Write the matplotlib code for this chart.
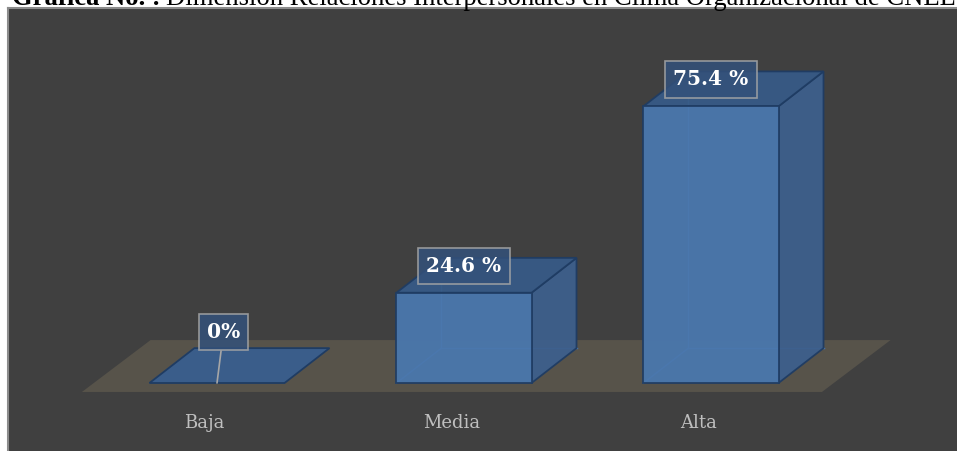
import matplotlib
matplotlib.use('Agg')
import matplotlib.pyplot as plt
from matplotlib.patches import Polygon

# datos de la gráfica
categories = ['Baja', 'Media', 'Alta']
values = [0.0, 24.6, 75.4]
value_labels = ['0%', '24.6 %', '75.4 %']

W, H = 957, 451
BG = '#404040'
FRONT = '#4a77ad'
SIDE = '#3d5f8c'
TOP = '#375a86'
EDGE = '#1f3c63'
FLOOR = '#57534a'

fig = plt.figure(figsize=(W / 100, H / 100), dpi=100)
fig.patch.set_facecolor('white')

# area del grafico (marco oscuro)
left_px, top_px = 8, 8
ax = fig.add_axes([left_px / W, 0, (W - left_px) / W, (H - top_px) / H])
ax.set_facecolor(BG)

# escala: pixeles por categoria y por porcentaje
x0_px, px_cat = 217, 247
y0_px, px_pct = 383, 3.67
ax.set_xlim((left_px - x0_px) / px_cat, (W - x0_px) / px_cat)
ax.set_ylim((y0_px - H) / px_pct, (y0_px - top_px) / px_pct)

bar_w = 0.547   # ancho de la barra
dx, dy = 0.182, 9.5   # profundidad (oblicua)

# piso
fl_front, fl_back = -2.45, 11.7
fl_left, fl_right, fl_shift = -0.547, 2.449, 0.278
ax.add_patch(Polygon([(fl_left, fl_front), (fl_right, fl_front),
                      (fl_right + fl_shift, fl_back), (fl_left + fl_shift, fl_back)],
                     closed=True, facecolor=FLOOR, edgecolor='none', zorder=1))

for i, v in enumerate(values):
    xl, xr = i - bar_w / 2, i + bar_w / 2
    top = [(xl, v), (xr, v), (xr + dx, v + dy), (xl + dx, v + dy)]
    if v > 0:
        # aristas ocultas
        bx, by = xl + dx, dy
        ax.plot([bx, xl], [by, 0], color='#4f80bd', lw=1, zorder=2)
        ax.plot([bx, xr + dx], [by, by], color='#4f80bd', lw=1, zorder=2)
        ax.plot([bx, bx], [by, v + dy], color='#4f80bd', lw=1, zorder=2)
        side = [(xr, 0), (xr + dx, dy), (xr + dx, v + dy), (xr, v)]
        front = [(xl, 0), (xr, 0), (xr, v), (xl, v)]
        ax.add_patch(Polygon(side, closed=True, facecolor=SIDE, edgecolor=EDGE,
                             lw=1.3, alpha=0.95, zorder=3))
        ax.add_patch(Polygon(top, closed=True, facecolor=TOP, edgecolor=EDGE,
                             lw=1.3, alpha=0.95, zorder=3))
        ax.add_patch(Polygon(front, closed=True, facecolor=FRONT, edgecolor=EDGE,
                             lw=1.3, alpha=0.95, zorder=4))
    else:
        ax.add_patch(Polygon(top, closed=True, facecolor='#3a5d8a', edgecolor=EDGE,
                             lw=1.3, zorder=3))

# etiquetas de datos
box = dict(boxstyle='square,pad=0.4', facecolor='#34517a', edgecolor='#a6a6a6',
           lw=1.2, alpha=0.85)
for i, (v, lab) in enumerate(zip(values, value_labels)):
    if v > 0:
        ax.text(i, v + 7.3, lab, ha='center', va='center', color='white',
                fontsize=14.5, fontweight='bold', family='DejaVu Serif',
                bbox=box, zorder=6)
    else:
        ax.annotate(lab, xy=(i, 0), xytext=(i + 0.026, 13.8), ha='center', va='center',
                    color='white', fontsize=14.5, fontweight='bold', family='DejaVu Serif',
                    bbox=box, zorder=6,
                    arrowprops=dict(arrowstyle='-', color='#a6a6a6', lw=1.2,
                                    shrinkA=0, shrinkB=0))

# categorias
for i, c in enumerate(categories):
    ax.text(i - 0.05, -10.9, c, ha='center', va='center', color='#bfbfbf',
            fontsize=13, family='DejaVu Serif')

ax.set_xticks([])
ax.set_yticks([])
for s in ['right', 'bottom']:
    ax.spines[s].set_visible(False)
for s in ['left', 'top']:
    ax.spines[s].set_color('#8c8c8c')
    ax.spines[s].set_linewidth(1.5)

# titulo (cortado arriba, como en la imagen original)
t1 = fig.text(12 / W, 1 - 5 / H, 'Gráfica No. :', fontweight='bold', fontsize=19.2,
              family='Liberation Serif', va='baseline', ha='left')
fig.canvas.draw()
bb = t1.get_window_extent()
fig.text(bb.x1 / W + 5 / W, 1 - 5 / H, 'Dimensión Relaciones Interpersonales en Clima Organizacional de CNEL',
         fontsize=19.2, family='Liberation Serif', va='baseline', ha='left')

fig.savefig('out.png', dpi=100)
